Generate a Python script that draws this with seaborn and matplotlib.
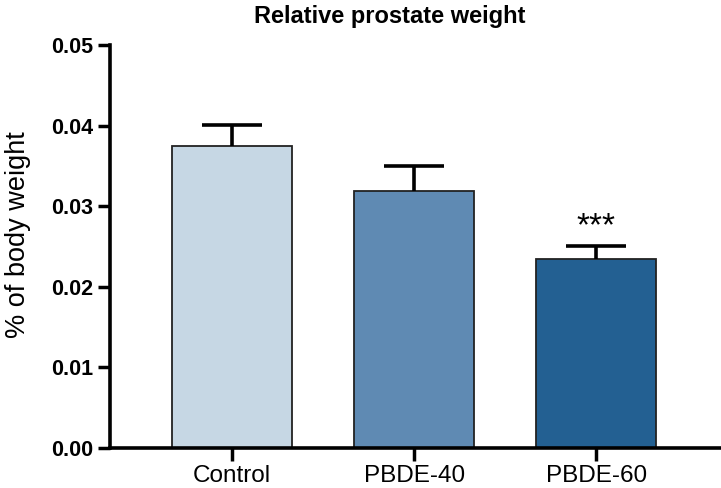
#!/usr/bin/env python3
"""Relative prostate weight bar chart"""

import pandas as pd
import matplotlib
matplotlib.use("Agg")
import matplotlib.pyplot as plt
import seaborn as sns

groups = ["Control", "PBDE-40", "PBDE-60"]
means = [0.0375, 0.0319, 0.0234]
sem = [0.0026, 0.0031, 0.0016]
bar_colors = ["#c6d7e4", "#5f8ab3", "#236092"]
stars = ["", "", "***"]


def main():
    sns.set_style("white")
    plt.rcParams["font.family"] = ["Liberation Sans", "DejaVu Sans"]
    plt.rcParams["text.color"] = "black"
    plt.rcParams["xtick.color"] = "black"
    plt.rcParams["ytick.color"] = "black"
    plt.rcParams["axes.labelcolor"] = "black"

    df = pd.DataFrame({"group": groups, "value": means})

    fig = plt.figure(figsize=(7.21, 4.88), dpi=100)
    ax = fig.add_axes([0.1526, 0.082, 0.846, 0.826])

    sns.barplot(data=df, x="group", y="value", hue="group", palette=bar_colors,
                saturation=1, errorbar=None, width=0.66, edgecolor="#222222",
                linewidth=1.3, legend=False, ax=ax)

    eb = ax.errorbar(range(len(groups)), means, yerr=[[0] * len(groups), sem],
                     fmt="none", ecolor="black", elinewidth=2.6, capsize=21.5,
                     capthick=2.6, zorder=5)
    eb[1][0].set_visible(False)

    for i, s in enumerate(stars):
        if s:
            ax.text(i, means[i] + sem[i] + 0.0005, s, ha="center", va="bottom",
                    fontsize=24)

    ax.set_xlim(-0.67, 2.68)
    ax.set_ylim(0, 0.05)
    ax.set_yticks([0, 0.01, 0.02, 0.03, 0.04, 0.05])
    ax.set_yticklabels(["0.00", "0.01", "0.02", "0.03", "0.04", "0.05"],
                       fontweight="bold", fontsize=15.5)
    ax.tick_params(axis="x", labelsize=17.5)
    ax.tick_params(bottom=True, left=True, length=9, width=2.5,
                   direction="out", color="black")
    ax.tick_params(axis="y", pad=3)
    ax.tick_params(axis="x", pad=3)

    for side in ["top", "right"]:
        ax.spines[side].set_visible(False)
    for side in ["left", "bottom"]:
        ax.spines[side].set_linewidth(2.6)
        ax.spines[side].set_color("black")

    ax.set_xlabel("")
    ax.set_ylabel("% of body weight", fontsize=19.5)
    ax.yaxis.set_label_coords(-0.13, 0.53)
    ax.set_title("Relative prostate weight", fontweight="bold", fontsize=17,
                 x=0.459, pad=16)

    fig.savefig("out.png", dpi=100)


if __name__ == "__main__":
    main()
